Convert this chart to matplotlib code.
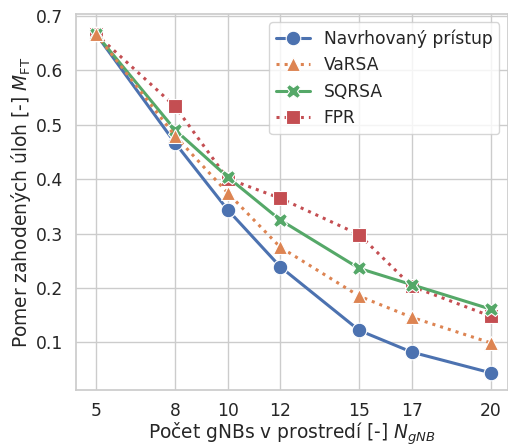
import matplotlib
matplotlib.use("Agg")
import matplotlib.pyplot as plt
import seaborn as sns

sns.set_theme(style="whitegrid", font_scale=1.12)

gnbs = [5, 8, 10, 12, 15, 17, 20]
navrhovany = [0.667, 0.467, 0.344, 0.239, 0.122, 0.082, 0.044]
varsa = [0.667, 0.480, 0.375, 0.275, 0.185, 0.146, 0.099]
sqrsa = [0.667, 0.491, 0.404, 0.325, 0.236, 0.206, 0.161]
fpr = [0.667, 0.534, 0.401, 0.365, 0.298, 0.203, 0.148]

pal = sns.color_palette("deep")
series = [
    ("Navrhovaný prístup", navrhovany, "o", "-", pal[0], 2),
    ("VaRSA", varsa, "^", ":", pal[1], 5),
    ("SQRSA", sqrsa, "X", "-", pal[2], 4),
    ("FPR", fpr, "s", ":", pal[3], 3),
]

fig, ax = plt.subplots(figsize=(5.08, 4.46), dpi=100)
fig.subplots_adjust(left=0.15, right=1.0, bottom=0.125, top=0.969)
for name, vals, mk, ls, col, z in series:
    ax.plot(gnbs, vals, marker=mk, linestyle=ls, color=col, label=name,
            linewidth=2.2, markersize=10.5, markeredgecolor="white",
            markeredgewidth=0.8, zorder=z)

ax.set_xticks(gnbs)
ax.set_xlim(4.25, 20.65)
ax.set_ylim(0.012, 0.704)
ax.tick_params(axis="x", pad=2.5)
ax.set_xlabel("Počet gNBs v prostredí [-] $N_{gNB}$", labelpad=0)
ax.set_ylabel("Pomer zahodených úloh [-] $M_\\mathrm{FT}$", labelpad=2)
ax.legend(loc="upper right")
fig.savefig("out.png")
